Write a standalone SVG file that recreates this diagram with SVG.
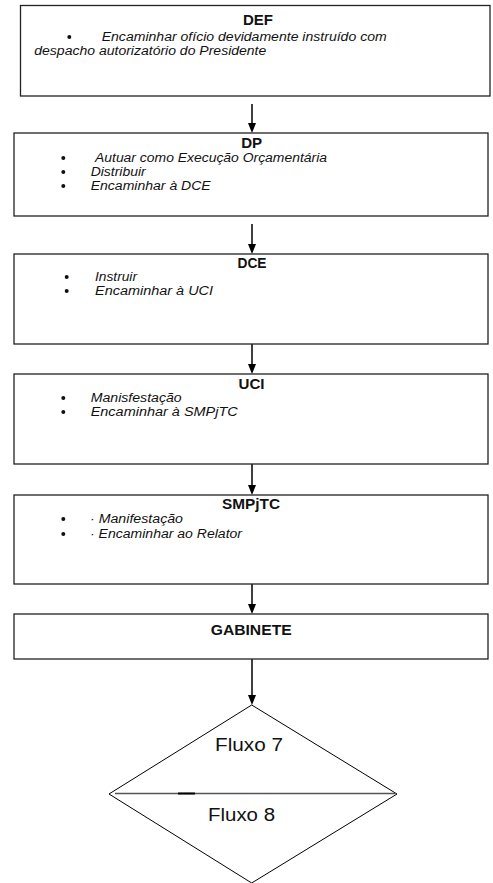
<svg xmlns="http://www.w3.org/2000/svg" width="493" height="883" viewBox="0 0 493 883">
<defs>
<style>
.box{fill:#fff;stroke:#222;stroke-width:1.3}
.t{font-family:"Liberation Sans",Arial,sans-serif;font-weight:bold;font-size:14px;fill:#111;text-anchor:middle}
.i{font-family:"Liberation Sans",Arial,sans-serif;font-style:italic;font-size:12.5px;fill:#111}
.f{font-family:"Liberation Sans",Arial,sans-serif;font-size:18px;fill:#111;text-anchor:middle}
.b{fill:#111}
.c{stroke:#000;stroke-width:1.5;fill:none}
</style>
</defs>
<rect width="493" height="883" fill="#fff"/>
<g id="connectors">
<line class="c" x1="252" y1="104" x2="252" y2="123"/><path d="M248,123 L256,123 L252,133 Z" fill="#000"/>
<line class="c" x1="252" y1="224" x2="252" y2="244"/><path d="M248,244 L256,244 L252,254 Z" fill="#000"/>
<line class="c" x1="252" y1="344" x2="252" y2="364"/><path d="M248,364 L256,364 L252,374 Z" fill="#000"/>
<line class="c" x1="252" y1="464" x2="252" y2="485"/><path d="M248,485 L256,485 L252,495 Z" fill="#000"/>
<line class="c" x1="252" y1="584" x2="252" y2="604"/><path d="M248,604 L256,604 L252,614 Z" fill="#000"/>
<line class="c" x1="252" y1="659" x2="252" y2="695"/><path d="M248,695 L256,695 L252,705 Z" fill="#000"/>
</g>
<g id="def">
<rect class="box" x="20.5" y="5.5" width="469.5" height="90.5"/>
<text class="t" x="258" y="25" textLength="30" lengthAdjust="spacingAndGlyphs">DEF</text>
<circle class="b" cx="69.3" cy="37" r="2"/>
<text class="i" x="101.7" y="41" textLength="285" lengthAdjust="spacingAndGlyphs">Encaminhar ofício devidamente instruído com</text>
<text class="i" x="34.3" y="55" textLength="232" lengthAdjust="spacingAndGlyphs">despacho autorizatório do Presidente</text>
</g>
<g id="dp">
<rect class="box" x="14" y="133" width="474" height="83"/>
<text class="t" x="251.7" y="148" textLength="21" lengthAdjust="spacingAndGlyphs">DP</text>
<circle class="b" cx="63.3" cy="158" r="2"/>
<circle class="b" cx="63.3" cy="172" r="2"/>
<circle class="b" cx="63.3" cy="186" r="2"/>
<text class="i" x="95" y="162" textLength="232" lengthAdjust="spacingAndGlyphs">Autuar como Execução Orçamentária</text>
<text class="i" x="90.7" y="176" textLength="55" lengthAdjust="spacingAndGlyphs">Distribuir</text>
<text class="i" x="90.7" y="190" textLength="120" lengthAdjust="spacingAndGlyphs">Encaminhar à DCE</text>
</g>
<g id="dce">
<rect class="box" x="14" y="254" width="474" height="90"/>
<text class="t" x="252" y="268" textLength="29" lengthAdjust="spacingAndGlyphs">DCE</text>
<circle class="b" cx="66.7" cy="277" r="2"/>
<circle class="b" cx="66.7" cy="291" r="2"/>
<text class="i" x="95" y="281" textLength="42" lengthAdjust="spacingAndGlyphs">Instruir</text>
<text class="i" x="95" y="295" textLength="118" lengthAdjust="spacingAndGlyphs">Encaminhar à  UCI</text>
</g>
<g id="uci">
<rect class="box" x="14" y="374" width="474" height="90"/>
<text class="t" x="251.5" y="389" textLength="26" lengthAdjust="spacingAndGlyphs">UCI</text>
<circle class="b" cx="63.3" cy="398" r="2"/>
<circle class="b" cx="63.3" cy="412" r="2"/>
<text class="i" x="90.7" y="402" textLength="91" lengthAdjust="spacingAndGlyphs">Manisfestação</text>
<text class="i" x="90.7" y="416" textLength="147" lengthAdjust="spacingAndGlyphs">Encaminhar à  SMPjTC</text>
</g>
<g id="smpjtc">
<rect class="box" x="14" y="495" width="474" height="89"/>
<text class="t" x="251" y="509" textLength="58" lengthAdjust="spacingAndGlyphs">SMPjTC</text>
<circle class="b" cx="63.3" cy="519" r="2"/>
<circle class="b" cx="63.3" cy="534" r="2"/>
<text class="i" x="90" y="523" textLength="93" lengthAdjust="spacingAndGlyphs">· Manifestação</text>
<text class="i" x="90" y="538" textLength="152" lengthAdjust="spacingAndGlyphs">· Encaminhar ao Relator</text>
</g>
<g id="gabinete">
<rect class="box" x="14" y="614" width="474" height="45"/>
<text class="t" x="251.2" y="635" textLength="81" lengthAdjust="spacingAndGlyphs">GABINETE</text>
</g>
<g id="fluxo">
<path d="M251.7,705 L397,794 L251.7,883 L109,794 Z" fill="#fff" stroke="#000" stroke-width="1"/>
<line x1="115" y1="793.5" x2="395" y2="793.5" stroke="#555" stroke-width="1.5"/>
<line x1="178" y1="793.5" x2="195" y2="793.5" stroke="#000" stroke-width="2"/>
<text class="f" x="249" y="751" textLength="68" lengthAdjust="spacingAndGlyphs">Fluxo 7</text>
<text class="f" x="241.5" y="821" textLength="67" lengthAdjust="spacingAndGlyphs">Fluxo 8</text>
</g>
</svg>
